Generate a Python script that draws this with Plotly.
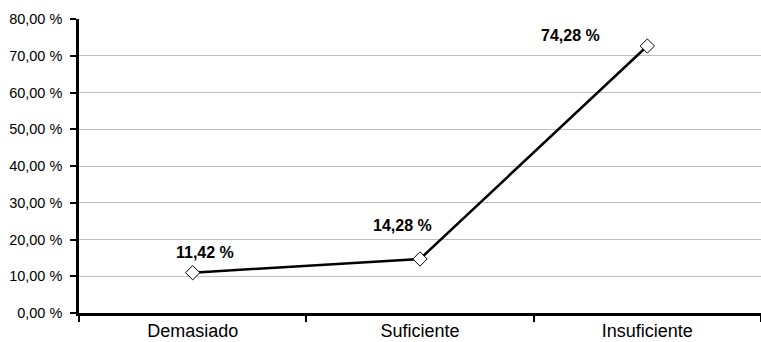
import plotly.graph_objects as go

categories = ["Demasiado", "Suficiente", "Insuficiente"]
values = [10.97, 14.7, 72.65]
labels = ["11,42 %", "14,28 %", "74,28 %"]
label_dx = [12, -18, -77]
label_dy = [-20, -33, -11]
y_ticks = [0, 10, 20, 30, 40, 50, 60, 70, 80]
y_tick_text = ["0,00 %", "10,00 %", "20,00 %", "30,00 %", "40,00 %", "50,00 %", "60,00 %", "70,00 %", "80,00 %"]

FONT = "Liberation Sans, Arial, sans-serif"

fig = go.Figure()
fig.add_trace(go.Scatter(
    x=categories, y=values, mode="lines+markers",
    line=dict(color="black", width=2.5),
    marker=dict(symbol="diamond", size=11, color="white", line=dict(color="black", width=1)),
    showlegend=False, hoverinfo="skip", cliponaxis=False,
))
for c, v, t, dx, dy in zip(categories, values, labels, label_dx, label_dy):
    fig.add_annotation(x=c, y=v, text="<b>%s</b>" % t, showarrow=False,
                       xshift=dx, yshift=-dy, font=dict(family=FONT, size=16, color="black"))

fig.update_layout(
    width=761, height=342,
    margin=dict(l=79, r=0, t=19, b=29),
    paper_bgcolor="white", plot_bgcolor="white",
    font=dict(family=FONT, color="black"),
)
fig.update_xaxes(
    type="category", range=[-0.5, 2.5], tickson="boundaries",
    ticks="outside", ticklen=6, tickwidth=2, tickcolor="black",
    showline=True, linecolor="black", linewidth=2.5,
    showgrid=False, tickfont=dict(size=18), zeroline=False, automargin=False,
)
fig.update_yaxes(
    range=[0, 80], tickvals=y_ticks, ticktext=y_tick_text,
    ticks="outside", ticklen=6, tickwidth=2, tickcolor="black",
    showline=True, linecolor="black", linewidth=2.5,
    showgrid=True, gridcolor="#c0c0c0", gridwidth=1,
    tickfont=dict(size=14.5), zeroline=False, automargin=False,
    ticklabelstandoff=5,
)
fig.write_html("out.html", config={"displayModeBar": False},
               post_script="document.body.style.margin='0px';")
